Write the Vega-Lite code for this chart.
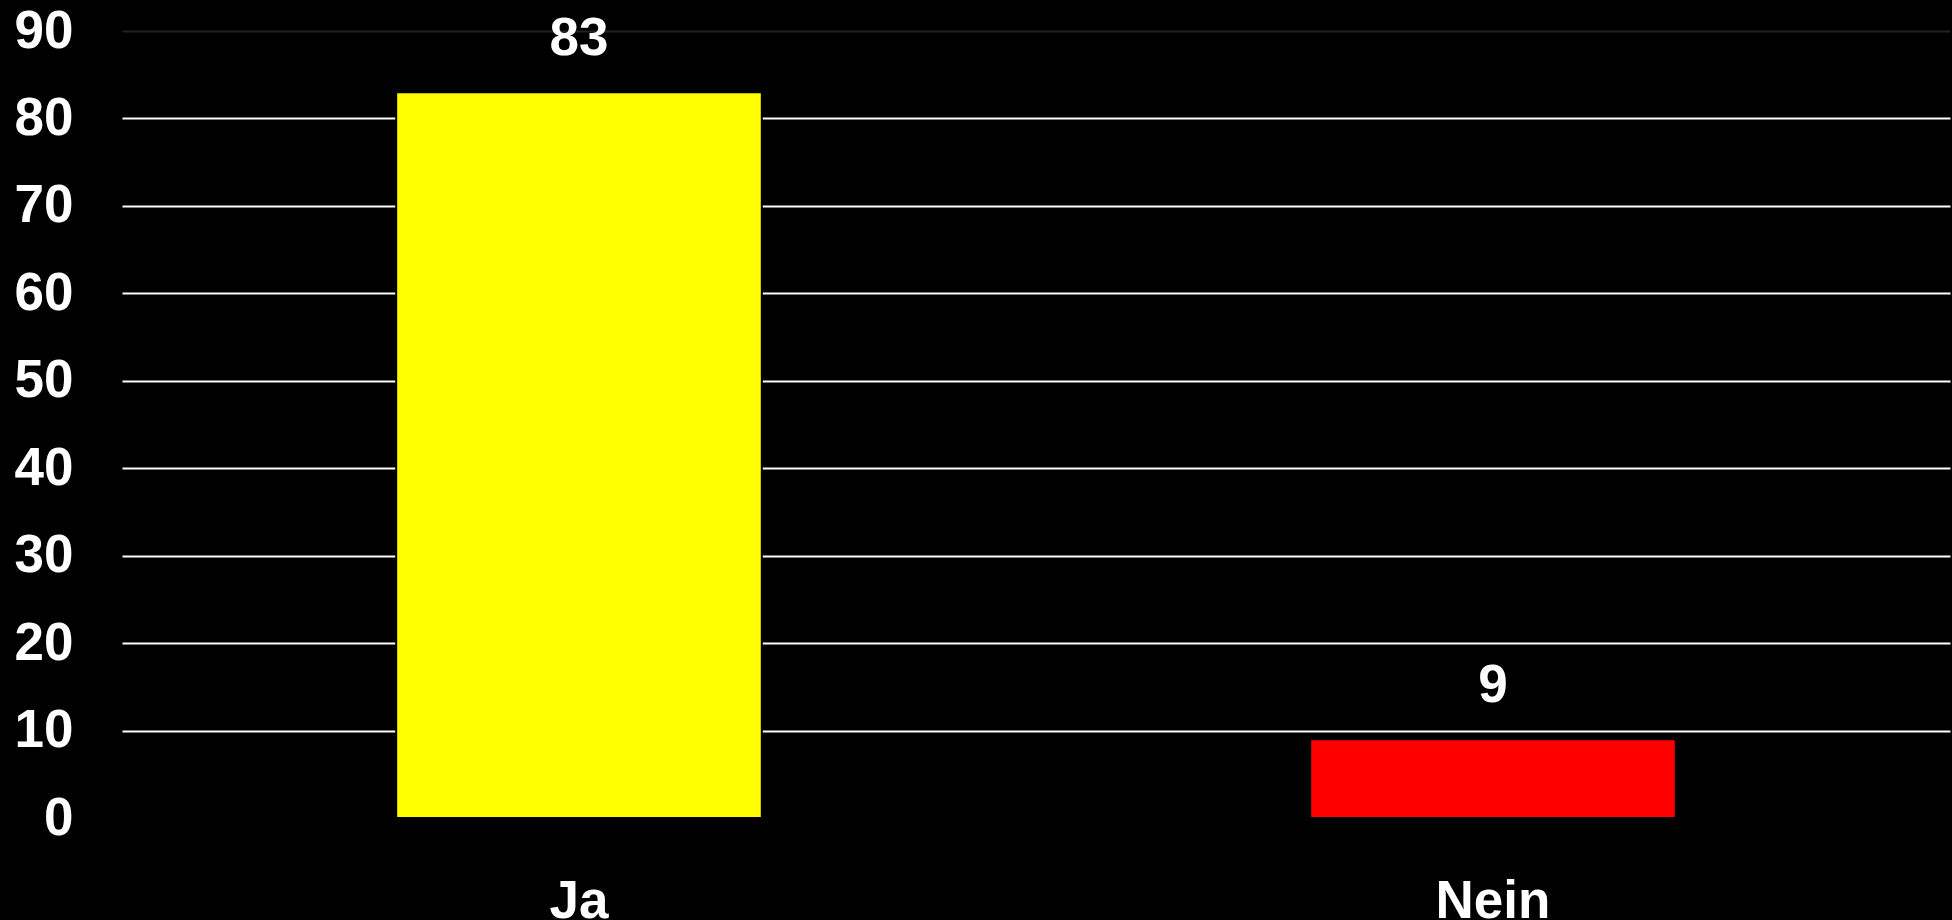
{
  "$schema": "https://vega.github.io/schema/vega-lite/v6.json",
  "autosize": "none",
  "width": 1828,
  "height": 787,
  "padding": {"left": 122, "top": 31, "right": 2, "bottom": 102},
  "background": "black",
  "config": {"view": {"stroke": null}, "font": "Liberation Sans"},
  "data": {"values": [
    {"answer": "Ja", "value": 83},
    {"answer": "Nein", "value": 9}
  ]},
  "encoding": {
    "x": {"field": "answer", "type": "nominal", "sort": null,
      "scale": {"paddingInner": 0.6, "paddingOuter": 0.3},
      "axis": {"title": null, "labelAngle": 0, "domain": false, "ticks": false,
        "labelColor": "white", "labelFont": "Liberation Sans", "labelFontWeight": "bold",
        "labelFontSize": 53, "labelPadding": 57, "labelBaseline": "top"}},
    "y": {"field": "value", "type": "quantitative",
      "scale": {"domain": [0, 90], "nice": false},
      "axis": {"title": null, "values": [0,10,20,30,40,50,60,70,80,90], "domain": false, "ticks": false,
        "labelColor": "white", "labelFont": "Liberation Sans", "labelFontWeight": "bold",
        "labelFontSize": 53, "labelPadding": 49,
        "gridColor": {"condition": [
          {"test": "datum.value == 90", "value": "#222222"},
          {"test": "datum.value == 0", "value": "black"}], "value": "white"},
        "gridWidth": 2}}
  },
  "layer": [
    {"mark": {"type": "bar", "stroke": "black", "strokeWidth": 2},
     "encoding": {"color": {"field": "answer", "type": "nominal",
       "scale": {"domain": ["Ja", "Nein"], "range": ["#FFFF00", "#FF0000"]}, "legend": null}}},
    {"mark": {"type": "text", "baseline": "bottom", "dy": -26, "color": "white",
       "font": "Liberation Sans", "fontWeight": "bold", "fontSize": 53},
     "encoding": {"text": {"field": "value", "type": "quantitative"}}}
  ]
}
